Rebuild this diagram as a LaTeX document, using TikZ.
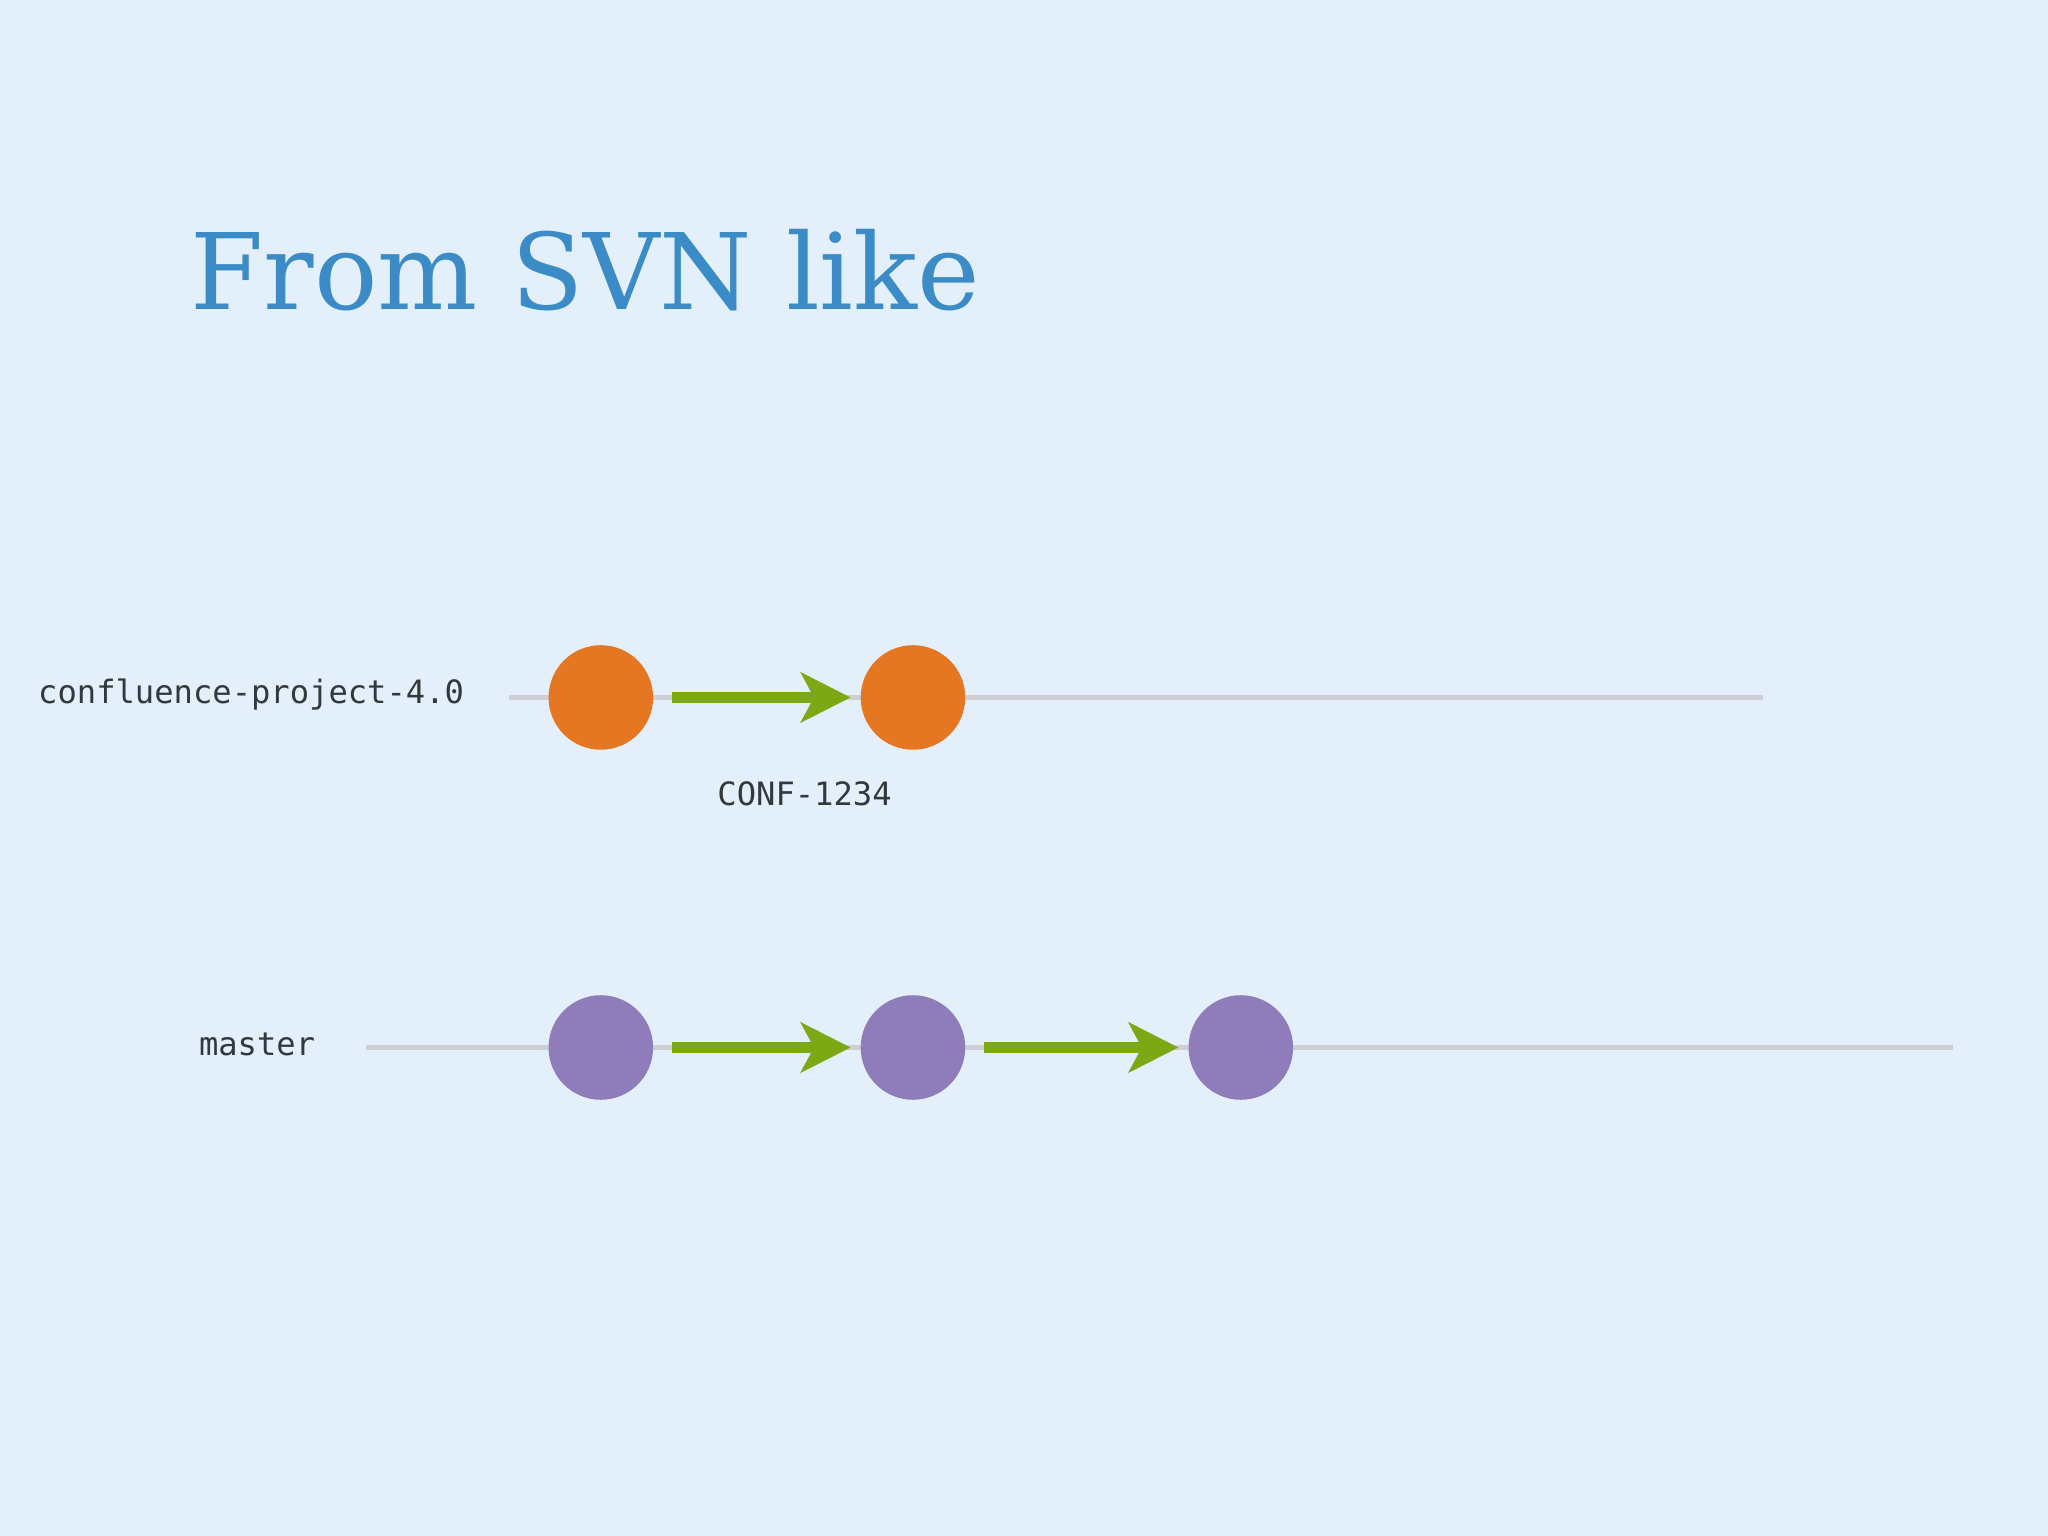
\documentclass[tikz,border=0pt]{standalone}
\usepackage{fontspec}
\setmainfont{DejaVu Serif}
\newfontfamily\monof{DejaVu Sans Mono}
\usetikzlibrary{arrows.meta}
\definecolor{bg}{HTML}{E3EFFA}
\definecolor{ttl}{HTML}{3B8CC6}
\definecolor{orng}{HTML}{E67722}
\definecolor{purp}{HTML}{8E7CBB}
\definecolor{grn}{HTML}{7BA813}
\definecolor{gline}{HTML}{CFCFD3}
\definecolor{txt}{HTML}{33383D}
\begin{document}
\begin{tikzpicture}[x=0.01cm,y=-0.01cm,
  commit/.style={circle,minimum size=0.8cm,inner sep=0pt},
  lbl/.style={font=\monof\fontsize{7}{8}\selectfont,text=txt,inner sep=0pt},
  flow/.style={draw=grn,line width=0.08cm,-{Stealth[length=0.38cm,width=0.38cm,inset=0.1cm]},shorten <=0.14cm,shorten >=0.07cm},
  track/.style={draw=gline,line width=0.04cm}]
\fill[bg] (0,0) rectangle (1568,1176);
\useasboundingbox (0,0) rectangle (1568,1176);
\node[anchor=base west,inner sep=0pt,text=ttl,font=\fontsize{23}{26}\selectfont] (title) at (145,237) {From SVN like};
\coordinate (t1s) at (390,534); \coordinate (t1e) at (1350,534);
\coordinate (t2s) at (280,802); \coordinate (t2e) at (1495,802);
\draw[track] (t1s) -- (t1e);
\draw[track] (t2s) -- (t2e);
\node[commit,fill=orng] (a1) at (460,534) {};
\node[commit,fill=orng] (a2) at (699,534) {};
\node[commit,fill=purp] (b1) at (460,802) {};
\node[commit,fill=purp] (b2) at (699,802) {};
\node[commit,fill=purp] (b3) at (950,802) {};
\draw[flow] (a1) -- (a2);
\draw[flow] (b1) -- (b2);
\draw[flow] (b2) -- (b3);
\node[lbl,anchor=east] (l1) at (356,532) {confluence-project-4.0};
\node[lbl,anchor=east] (l2) at (242,800) {master};
\node[lbl] (l3) at (616,608) {CONF-1234};
\end{tikzpicture}
\end{document}
